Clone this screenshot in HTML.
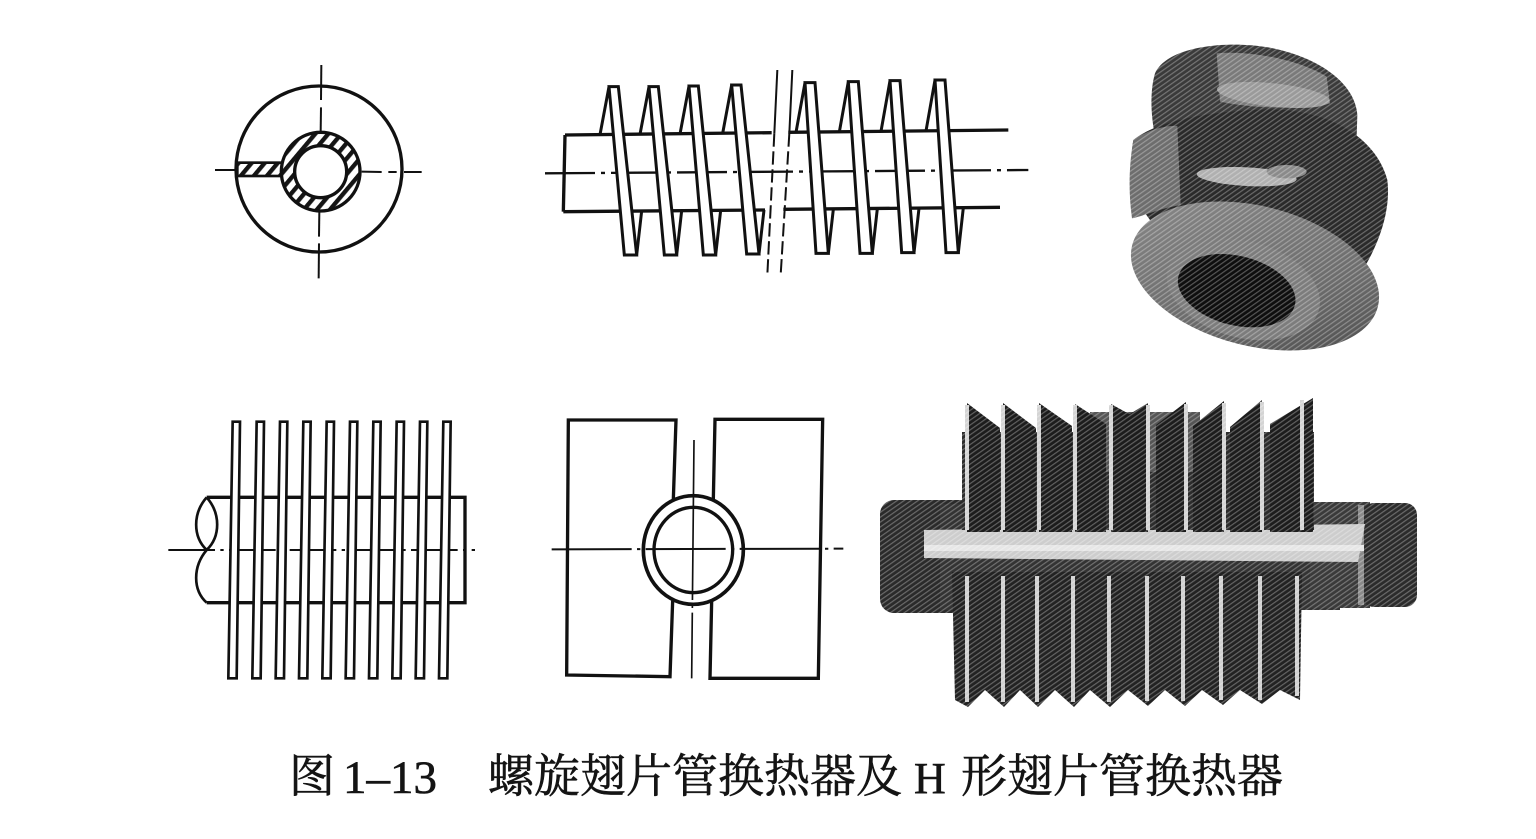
<!DOCTYPE html>
<html><head><meta charset="utf-8"><style>
html,body{margin:0;padding:0;background:#fff;}
svg{display:block;}
</style></head><body>
<svg width="1536" height="839" viewBox="0 0 1536 839" xmlns="http://www.w3.org/2000/svg">
<defs>
<pattern id="hatch" patternUnits="userSpaceOnUse" width="30" height="30" patternTransform="rotate(40)">
<rect width="30" height="30" fill="#fff"/><rect x="0" y="0" width="13" height="30" fill="#151515"/>
</pattern>
<pattern id="grain" patternUnits="userSpaceOnUse" width="4" height="4" patternTransform="rotate(-35)">
<rect width="4" height="1.2" fill="#fff" opacity="0.3"/>
</pattern>
<linearGradient id="flg" x1="0" y1="0" x2="1" y2="1">
<stop offset="0" stop-color="#8a8a8a"/><stop offset="0.6" stop-color="#6c6c6c"/><stop offset="1" stop-color="#4a4a4a"/>
</linearGradient>
</defs>
<rect width="1536" height="839" fill="#fff"/>

<!-- Drawing 1: section circle -->
<g transform="translate(200,50) scale(0.33333)" stroke="#111" fill="none">
<circle cx="357" cy="357" r="249" stroke-width="10"/>
<rect x="112" y="338" width="134" height="40" fill="url(#hatch)" stroke-width="8"/>
<path d="M244,365 a118,118 0 1,0 236,0 a118,118 0 1,0 -236,0 Z M284,365 a78,78 0 1,0 156,0 a78,78 0 1,0 -156,0 Z" fill="url(#hatch)" fill-rule="evenodd" stroke-width="10"/>
<g stroke-width="6">
<line x1="45" y1="360" x2="108" y2="360"/>
<line x1="485" y1="365" x2="545" y2="366"/>
<line x1="565" y1="366" x2="590" y2="366"/>
<line x1="612" y1="366" x2="665" y2="366"/>
<line x1="364" y1="45" x2="363" y2="150"/>
<line x1="363" y1="172" x2="362" y2="245"/>
<line x1="358" y1="485" x2="357" y2="560"/>
<line x1="357" y1="580" x2="356" y2="685"/>
</g>
</g>

<!-- Drawing 2: spiral fin tube -->
<g transform="translate(530,60) scale(0.33333)" stroke="#111" fill="none" stroke-linejoin="miter">
<path d="M105,225 L725,218 M775,217 L1435,210" stroke-width="10"/>
<path d="M100,455 L705,450 M760,448 L1410,442" stroke-width="10"/>
<path d="M105,225 L100,455" stroke-width="10"/>
<line x1="45" y1="340" x2="1495" y2="330" stroke-width="7" stroke-dasharray="150,18,12,18"/>
<g stroke-width="9">
<path d="M210,224 L237,80 M320,585 L335,453"/>
<path d="M330,223 L357,80 M440,585 L455,452"/>
<path d="M450,222 L477,78 M557,585 L572,451"/>
<path d="M578,220 L605,75 M687,582 L702,450"/>
<path d="M798,217 L825,68 M895,580 L910,448"/>
<path d="M928,216 L955,65 M1027,580 L1042,446"/>
<path d="M1053,214 L1080,62 M1152,578 L1167,445"/>
<path d="M1188,213 L1215,60 M1285,578 L1300,443"/>
<polygon points="237,80 265,80 320,585 283,585" fill="#fff"/>
<polygon points="357,80 385,80 440,585 403,585" fill="#fff"/>
<polygon points="477,78 505,78 557,585 520,585" fill="#fff"/>
<polygon points="605,75 633,75 687,582 650,582" fill="#fff"/>
<polygon points="825,68 855,68 895,580 858,580" fill="#fff"/>
<polygon points="955,65 985,65 1027,580 990,580" fill="#fff"/>
<polygon points="1080,62 1110,62 1152,578 1115,578" fill="#fff"/>
<polygon points="1215,60 1245,60 1285,578 1248,578" fill="#fff"/>
</g>
<g stroke-width="6">
<path d="M742,30 L733,220 M787,30 L778,220"/>
<path d="M733,220 L712,645 M778,220 L752,645" stroke-dasharray="40,14"/>
</g>
</g>

<!-- Drawing 3: plate fins on tube -->
<g transform="translate(160,410) scale(0.33333)" stroke="#111" fill="none">
<line x1="25" y1="420" x2="945" y2="420" stroke-width="6" stroke-dasharray="140,16,10,16"/>
<path d="M140,262 L915,262 L915,578 L140,578" stroke-width="10"/>
<path d="M140,262 C98,310 98,380 140,420 M140,262 C182,310 182,380 140,420 M140,420 C98,470 98,540 140,578" stroke-width="8"/>
<g stroke-width="8" fill="#fff">
<polygon points="218,35 240,35 230,805 205,805"/>
<polygon points="290,35 312,35 302,805 277,805"/>
<polygon points="360,35 382,35 372,805 347,805"/>
<polygon points="430,35 452,35 442,805 417,805"/>
<polygon points="500,35 522,35 512,805 487,805"/>
<polygon points="570,35 592,35 582,805 557,805"/>
<polygon points="640,35 662,35 652,805 627,805"/>
<polygon points="710,35 732,35 722,805 697,805"/>
<polygon points="780,35 802,35 792,805 767,805"/>
<polygon points="850,35 872,35 862,805 837,805"/>
</g>
</g>

<!-- Drawing 4: H fin -->
<g transform="translate(540,410) scale(0.33333)" stroke="#111" fill="none">
<path d="M400,268 L408,30 L85,30 L80,795 L390,800 L398,572" stroke-width="10"/>
<path d="M520,268 L525,28 L848,28 L835,805 L510,805 L515,572" stroke-width="10"/>
<ellipse cx="460" cy="420" rx="150" ry="163" stroke-width="11"/>
<ellipse cx="460" cy="420" rx="118" ry="128" stroke-width="10"/>
<line x1="35" y1="418" x2="910" y2="416" stroke-width="6" stroke-dasharray="240,16,10,16"/>
<line x1="462" y1="90" x2="455" y2="805" stroke-width="5" stroke-dasharray="480,14,10,14"/>
</g>

<!-- Photo 1: spiral fin piece -->
<g transform="translate(1100,30) scale(0.33333)">
<path d="M165,130 C200,50 380,28 520,55 C660,85 765,160 772,255 L770,320 L170,340 C150,260 150,180 165,130 Z" fill="#3a3a3a"/>
<path d="M350,70 C450,60 600,90 680,140 L690,220 C600,240 450,235 360,215 Z" fill="#7a7a7a"/>
<ellipse cx="520" cy="195" rx="170" ry="35" transform="rotate(6 520 195)" fill="#9a9a9a"/>
<path d="M100,330 C160,280 300,245 500,238 C700,238 830,330 862,450 C872,530 845,620 800,700 L150,570 C95,500 88,400 100,330 Z" fill="#2a2a2a"/>
<path d="M100,330 C140,300 200,285 232,288 L242,525 C180,535 125,560 96,565 C84,480 88,400 100,330 Z" fill="#6d6d6d"/>
<ellipse cx="440" cy="440" rx="150" ry="28" transform="rotate(3 440 440)" fill="#b0b0b0"/>
<ellipse cx="560" cy="425" rx="60" ry="20" fill="#8a8a8a"/>
<ellipse cx="465" cy="738" rx="380" ry="210" transform="rotate(14 465 738)" fill="url(#flg)"/>
<ellipse cx="430" cy="778" rx="235" ry="145" transform="rotate(15 430 778)" fill="#7c7c7c"/>
<ellipse cx="410" cy="782" rx="180" ry="104" transform="rotate(14 410 782)" fill="#0e0e0e"/>
</g>
<rect x="1120" y="35" width="280" height="325" fill="url(#grain)"/>

<!-- Photo 2: H fin tube -->
<g>
<rect x="880" y="500" width="95" height="113" rx="14" fill="#2a2a2a"/>
<rect x="940" y="504" width="400" height="106" fill="#333"/>
<rect x="1310" y="502" width="60" height="106" fill="#3a3a3a"/>
<rect x="1362" y="503" width="55" height="104" rx="12" fill="#2b2b2b"/>
<rect x="1358" y="505" width="6" height="100" fill="#8a8a8a"/>
<polygon points="924,530 1365,524 1358,562 924,558" fill="#cdcdcd"/>
<rect x="924" y="545" width="440" height="6" fill="#e6e6e6"/>
<rect x="962" y="432" width="352" height="98" fill="#2c2c2c"/>
<rect x="1090" y="412" width="110" height="60" fill="#555"/>
<g fill="#1c1c1c">
<polygon points="967,403 1000,428 1000,532 967,532"/>
<polygon points="1003,403 1036,428 1036,532 1003,532"/>
<polygon points="1039,403 1072,426 1072,532 1039,532"/>
<polygon points="1075,404 1106,424 1106,532 1075,532"/>
<polygon points="1111,404 1140,420 1140,532 1111,532"/>
<polygon points="1120,420 1148,403 1148,532 1120,532"/>
<polygon points="1156,425 1186,402 1186,532 1156,532"/>
<polygon points="1193,426 1224,401 1224,532 1193,532"/>
<polygon points="1230,427 1262,400 1262,532 1230,532"/>
<polygon points="1270,424 1313,398 1313,532 1270,532"/>
</g>
<g fill="#d4d4d4">
<rect x="965" y="405" width="4" height="125"/>
<rect x="1001" y="405" width="4" height="125"/>
<rect x="1037" y="405" width="4" height="125"/>
<rect x="1073" y="405" width="4" height="125"/>
<rect x="1109" y="405" width="4" height="125"/>
<rect x="1146" y="405" width="4" height="125"/>
<rect x="1184" y="404" width="4" height="126"/>
<rect x="1222" y="403" width="4" height="127"/>
<rect x="1260" y="402" width="4" height="128"/>
<rect x="1300" y="400" width="4" height="130"/>
</g>
<polygon points="952,572 1302,572 1300,700 1280,690 1262,704 1240,690 1223,705 1202,690 1185,706 1165,690 1148,706 1128,690 1110,707 1090,690 1074,707 1055,690 1038,707 1020,690 1004,707 985,690 968,707 955,700" fill="#222"/>
<g fill="#d0d0d0">
<rect x="965" y="576" width="4" height="126"/>
<rect x="1001" y="576" width="4" height="126"/>
<rect x="1035" y="576" width="4" height="126"/>
<rect x="1071" y="576" width="4" height="126"/>
<rect x="1107" y="576" width="4" height="126"/>
<rect x="1145" y="576" width="4" height="125"/>
<rect x="1181" y="576" width="4" height="125"/>
<rect x="1219" y="576" width="4" height="124"/>
<rect x="1258" y="576" width="4" height="124"/>
<rect x="1295" y="576" width="4" height="120"/>
</g>
</g>
<rect x="875" y="395" width="550" height="320" fill="url(#grain)"/>

<!-- Caption -->
<g fill="#141414" stroke="#141414" stroke-width="0.6" font-family="'Liberation Serif','Noto Serif CJK SC','Noto Sans CJK SC',serif">
<text x="289" y="792" font-size="46">图</text>
<text x="343" y="793" font-size="47">1–13</text>
<text x="488" y="792" font-size="46">螺旋翅片管换热器及</text>
<text x="914" y="793" font-size="44">H</text>
<text x="961" y="792" font-size="46">形翅片管换热器</text>
</g>
</svg>
</body></html>
